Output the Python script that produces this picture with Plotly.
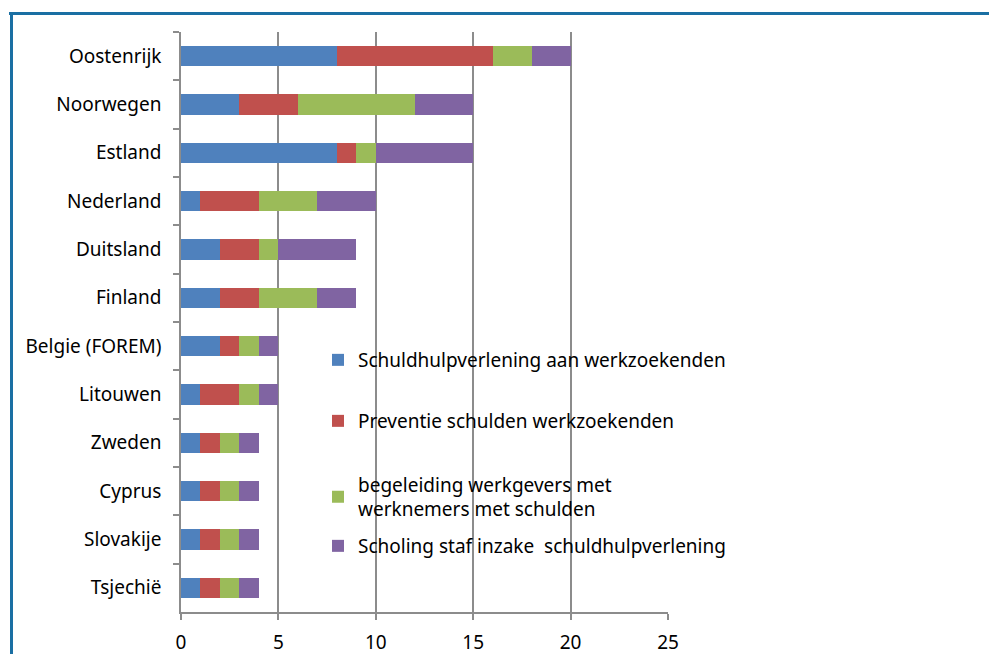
import plotly.graph_objects as go

countries = ["Oostenrijk", "Noorwegen", "Estland", "Nederland", "Duitsland", "Finland",
             "Belgie (FOREM)", "Litouwen", "Zweden", "Cyprus", "Slovakije", "Tsjechië"]
schuldhulp = [8, 3, 8, 1, 2, 2, 2, 1, 1, 1, 1, 1]
preventie = [8, 3, 1, 3, 2, 2, 1, 2, 1, 1, 1, 1]
begeleiding = [2, 6, 1, 3, 1, 3, 1, 1, 1, 1, 1, 1]
scholing = [2, 3, 5, 3, 4, 2, 1, 1, 1, 1, 1, 1]

series = [
    ("Schuldhulpverlening aan werkzoekenden", schuldhulp, "#4f81bd"),
    ("Preventie schulden werkzoekenden", preventie, "#c0504d"),
    ("begeleiding werkgevers met<br>werknemers met schulden", begeleiding, "#9bbb59"),
    ("Scholing staf inzake  schuldhulpverlening", scholing, "#8064a2"),
]

FONT = "Noto Sans"
FS = 19
L, R, T, B = 181, 989 - 668, 32, 654 - 612


def px_x(p):
    return (p - L) / 487


def px_y(p):
    return (612 - p) / 580


legend_names = ["legend", "legend2", "legend3", "legend4"]
legend_centers = [360, 421, 497, 546]

fig = go.Figure()
for i, (name, vals, col) in enumerate(series):
    fig.add_trace(go.Bar(
        y=countries, x=vals, name=name, orientation="h",
        marker=dict(color=col, line=dict(width=0)),
        width=0.42, legend=legend_names[i],
    ))

layout_legends = {}
for ln, cy in zip(legend_names, legend_centers):
    layout_legends[ln] = dict(
        x=px_x(318), y=px_y(cy), xanchor="left", yanchor="middle",
        bgcolor="rgba(0,0,0,0)", font=dict(family=FONT, size=FS),
        itemwidth=30,
    )

fig.update_layout(
    width=989, height=654,
    margin=dict(l=L, r=R, t=T, b=B, autoexpand=False),
    barmode="stack",
    plot_bgcolor="white", paper_bgcolor="white",
    font=dict(family=FONT, size=FS, color="#000000"),
    showlegend=True,
    xaxis=dict(
        range=[0, 25], dtick=5, showgrid=True, gridcolor="#8c8c8c", gridwidth=1.5,
        zeroline=False, showline=True, linecolor="#8c8c8c", linewidth=1.5,
        ticks="outside", ticklen=6, tickcolor="#8c8c8c", tickwidth=1.5,
        tickfont=dict(family=FONT, size=FS), ticklabelstandoff=6,
        automargin=False,
    ),
    yaxis=dict(
        autorange="reversed", showgrid=False, showline=True, linecolor="#8c8c8c",
        linewidth=1.5, ticks="outside", ticklen=6, tickcolor="#8c8c8c", tickwidth=1.5,
        tickson="boundaries", tickfont=dict(family=FONT, size=FS),
        ticklabelstandoff=14, automargin=False,
    ),
    **layout_legends,
)

# outer frame (top and left border lines)
fig.add_shape(type="line", xref="paper", yref="paper",
              x0=px_x(9), x1=px_x(995), y0=px_y(13.5), y1=px_y(13.5),
              line=dict(color="#1a6fa3", width=3))
fig.add_shape(type="line", xref="paper", yref="paper",
              x0=px_x(11.5), x1=px_x(11.5), y0=px_y(12), y1=px_y(660),
              line=dict(color="#1a6fa3", width=3))

fig.write_html("out.html")
